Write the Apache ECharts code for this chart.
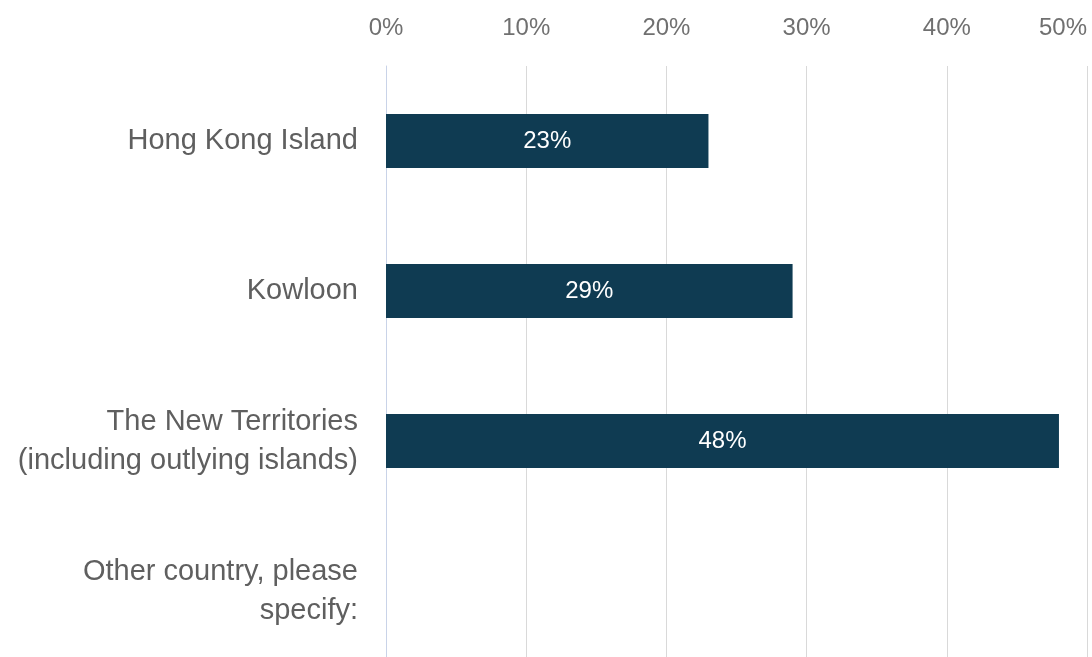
<!DOCTYPE html>
<html>
<head>
<meta charset="utf-8">
<style>
  html, body { margin: 0; padding: 0; background: #ffffff; }
  #chart { width: 1092px; height: 657px; }
</style>
<script src="https://cdn.jsdelivr.net/npm/echarts@6/dist/echarts.min.js"></script>
</head>
<body>
<div id="chart"></div>
<script>
// Share of respondents by area of residence
const categories = [
  'Hong Kong Island',
  'Kowloon',
  'The New Territories\n(including outlying islands)',
  'Other country, please\nspecify:'
];
const shares = [23, 29, 48, 0];
const tickValues = [0, 10, 20, 30, 40, 50];

const chart = echarts.init(document.getElementById('chart'));
chart.setOption({
  animation: false,
  backgroundColor: '#ffffff',
  grid: {
    left: 386, right: 5, top: 66, height: 600,
    containLabel: false,
    outerBoundsMode: 'none'
  },
  xAxis: {
    type: 'value',
    position: 'top',
    min: tickValues[0],
    max: tickValues[tickValues.length - 1],
    interval: tickValues[1] - tickValues[0],
    axisLine: { show: false },
    axisTick: { show: false },
    splitLine: { show: true, lineStyle: { color: '#d9d9d9', width: 1 } },
    axisLabel: {
      formatter: '{value}%',
      color: '#707070',
      fontSize: 24,
      fontFamily: 'Liberation Sans, Arial, sans-serif',
      margin: 26,
      alignMaxLabel: 'right'
    }
  },
  yAxis: {
    type: 'category',
    data: categories,
    inverse: true,
    axisLine: { show: true, lineStyle: { color: '#c9d3e8', width: 1 } },
    axisTick: { show: false },
    axisLabel: {
      color: '#5f5f5f',
      fontSize: 29,
      lineHeight: 39,
      fontFamily: 'Liberation Sans, Arial, sans-serif',
      margin: 28,
      align: 'right'
    }
  },
  series: [{
    type: 'bar',
    data: shares,
    barWidth: 54,
    itemStyle: { color: '#0f3b52' },
    label: {
      show: true,
      position: 'inside',
      color: '#ffffff',
      fontSize: 24,
      fontFamily: 'Liberation Sans, Arial, sans-serif',
      formatter: p => (p.value > 0 ? p.value + '%' : '')
    }
  }]
});
</script>
</body>
</html>
